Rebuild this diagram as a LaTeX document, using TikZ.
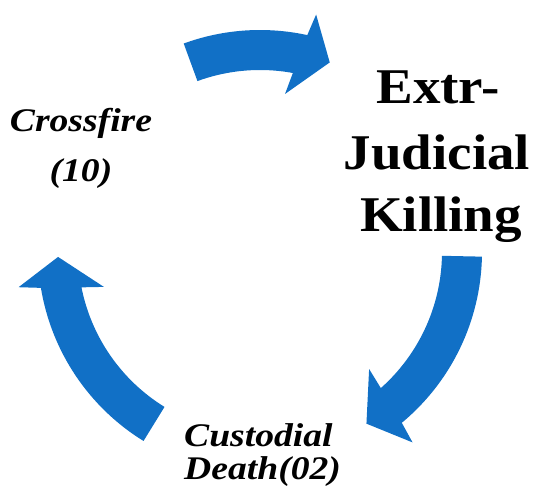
\documentclass[tikz,border=0pt]{standalone}
\usepackage{fontspec}
\newfontfamily\ekfont[FakeStretch=1.1]{Liberation Serif}
\newfontfamily\lbfont[FakeStretch=1.14]{Liberation Serif}
\definecolor{arrowblue}{RGB}{17,112,198}
\tikzset{
  cyclearrow/.style={fill=arrowblue, draw=none},
  bigword/.style={font=\ekfont\bfseries\fontsize{50}{60}\selectfont, inner sep=0pt, anchor=base, text=black},
  smallword/.style={font=\lbfont\bfseries\itshape\fontsize{33}{40}\selectfont, inner sep=0pt, text=black}
}
\newcommand\cyclearrowpath[2]{%
  \fill[cyclearrow] (#1:222pt) arc[start angle=#1, end angle=#2-3.3, radius=222pt]
    -- (#2-4.3:244pt) -- (#2-11.2:202pt) -- (#2:160pt) -- (#2-1.4:182pt)
    arc[start angle=#2-1.4, end angle=#1, radius=182pt] -- cycle;}
\begin{document}
\begin{tikzpicture}[x=1pt,y=1pt]
\useasboundingbox (0,0) rectangle (536,495);
\begin{scope}[shift={(260,243)}]
  \cyclearrowpath{110.1}{81.0}
  \cyclearrowpath{-1.2}{-47.0}
  \cyclearrowpath{238.35}{192.6}
\end{scope}
\node[bigword] (ek1) at (438,391.7) {Extr-};
\node[bigword] (ek2) at (437,325) {Judicial};
\node[bigword] (ek3) at (441,263.3) {Killing};
\node[smallword, anchor=base] (cf1) at (81,363.3) {Crossfire};
\node[smallword, anchor=base] (cf2) at (81,313.3) {(10)};
\node[smallword, anchor=base west] (cd1) at (184,48.3) {Custodial};
\node[smallword, anchor=base west] (cd2) at (184,15) {Death(02)};
\end{tikzpicture}
\end{document}
